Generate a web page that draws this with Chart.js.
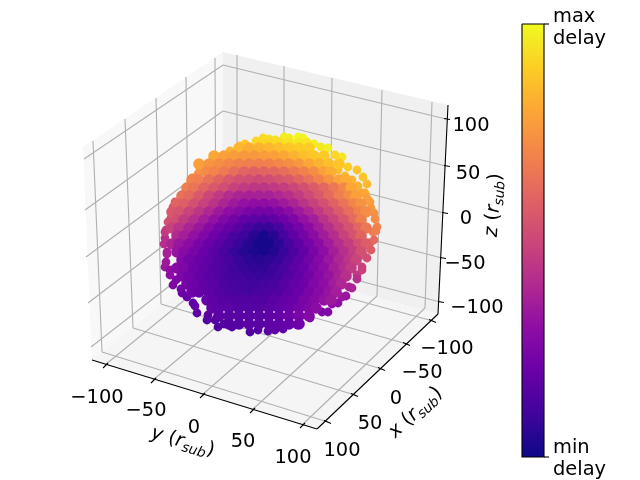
<!DOCTYPE html>
<html>
<head>
<meta charset="utf-8">
<title>delay map</title>
<script src="https://cdn.jsdelivr.net/npm/chart.js@4"></script>
<style>
body { margin: 0; background: #fff; }
canvas { display: block; }
</style>
</head>
<body>
<canvas id="delayChart" width="640" height="480"></canvas>
<script>
// plasma colormap, evenly spaced from 0 to 1
const plasmaStops = ['#0d0887', '#41049d', '#6a00a8', '#8f0da4', '#b12a90', '#cc4778', '#e16462', '#f2844b', '#fca636', '#fcce25', '#f0f921'];

// sphere points, row by row (view plane units), delay 0..1
const rowY = [143, 148, 156, 164, 172, 180, 188, 196, 204, 212, 220, 228, 236, 244, 252, 260, 268, 276, 284, 292, 300, 308, 316, 324];
const rowX = [
    [259, 269, 279, 289, 299],
    [239, 249, 259, 269, 279, 289, 299, 309],
    [214, 224, 234, 244, 254, 264, 274, 284, 294, 304, 314, 324],
    [199, 209, 219, 229, 239, 249, 259, 269, 279, 289, 299, 309, 319, 329, 339],
    [207, 214, 224, 234, 244, 254, 264, 274, 284, 294, 304, 314, 324, 331],
    [192, 199, 209, 219, 229, 239, 249, 259, 269, 279, 289, 299, 309, 319, 329, 339, 346],
    [187, 194, 204, 214, 224, 234, 244, 254, 264, 274, 284, 294, 304, 314, 324, 334, 344, 351],
    [182, 189, 199, 209, 219, 229, 239, 249, 259, 269, 279, 289, 299, 309, 319, 329, 339, 349, 356],
    [177, 184, 194, 204, 214, 224, 234, 244, 254, 264, 274, 284, 294, 304, 314, 324, 334, 344, 354, 361],
    [172, 179, 189, 199, 209, 219, 229, 239, 249, 259, 269, 279, 289, 299, 309, 319, 329, 339, 349, 359, 366],
    [177, 184, 194, 204, 214, 224, 234, 244, 254, 264, 274, 284, 294, 304, 314, 324, 334, 344, 354, 361],
    [172, 179, 189, 199, 209, 219, 229, 239, 249, 259, 269, 279, 289, 299, 309, 319, 329, 339, 349, 359, 366],
    [177, 184, 194, 204, 214, 224, 234, 244, 254, 264, 274, 284, 294, 304, 314, 324, 334, 344, 354, 361],
    [172, 179, 189, 199, 209, 219, 229, 239, 249, 259, 269, 279, 289, 299, 309, 319, 329, 339, 349, 359, 366],
    [177, 184, 194, 204, 214, 224, 234, 244, 254, 264, 274, 284, 294, 304, 314, 324, 334, 344, 354, 361],
    [182, 189, 199, 209, 219, 229, 239, 249, 259, 269, 279, 289, 299, 309, 319, 329, 339, 349, 356],
    [177, 184, 194, 204, 214, 224, 234, 244, 254, 264, 274, 284, 294, 304, 314, 324, 334, 344, 351],
    [182, 189, 199, 209, 219, 229, 239, 249, 259, 269, 279, 289, 299, 309, 319, 329, 339, 346],
    [187, 194, 204, 214, 224, 234, 244, 254, 264, 274, 284, 294, 304, 314, 324, 334, 341],
    [192, 199, 209, 219, 229, 239, 249, 259, 269, 279, 289, 299, 309, 319, 329, 336],
    [207, 214, 224, 234, 244, 254, 264, 274, 284, 294, 304, 314, 324, 331],
    [212, 219, 229, 239, 249, 259, 269, 279, 289, 299, 309, 316],
    [219, 229, 239, 249, 259, 269, 279, 289, 299, 309],
    [229, 239, 249, 259, 269, 279, 289, 299]
];
const rowDelay = [
    [.92, .92, .93, .95, .96],
    [.84, .82, .83, .84, .86, .88, .89, .90],
    [.80, .78, .77, .76, .76, .77, .78, .80, .83, .86, .88, .89],
    [.78, .75, .73, .71, .69, .68, .68, .69, .71, .73, .76, .80, .83, .86, .88],
    [.72, .70, .67, .63, .60, .59, .60, .61, .63, .66, .69, .73, .78, .82],
    [.70, .68, .64, .60, .56, .53, .52, .51, .52, .54, .56, .60, .64, .69, .74, .79, .82],
    [.68, .65, .60, .56, .52, .48, .46, .44, .44, .45, .47, .50, .53, .57, .61, .66, .71, .80],
    [.64, .62, .56, .50, .45, .41, .38, .37, .37, .37, .39, .42, .46, .51, .56, .62, .68, .73, .78],
    [.60, .58, .53, .48, .43, .38, .34, .31, .30, .30, .31, .34, .38, .43, .48, .53, .59, .65, .70, .74],
    [.56, .54, .49, .44, .39, .34, .30, .27, .24, .23, .23, .25, .29, .34, .39, .45, .51, .57, .63, .69, .73],
    [.52, .46, .41, .36, .31, .26, .22, .18, .16, .15, .17, .21, .25, .31, .36, .43, .49, .55, .62, .68],
    [.48, .43, .38, .33, .28, .23, .19, .15, .11, .08, .08, .12, .18, .23, .29, .35, .42, .48, .54, .61, .66],
    [.40, .36, .31, .26, .21, .17, .12, .09, .05, .02, .05, .11, .17, .23, .29, .35, .41, .48, .54, .60],
    [.38, .33, .29, .24, .20, .16, .12, .08, .05, .02, .02, .06, .11, .17, .23, .29, .35, .41, .47, .53, .58],
    [.32, .28, .24, .20, .16, .12, .08, .05, .03, .02, .04, .08, .13, .18, .24, .30, .36, .42, .47, .53],
    [.27, .23, .20, .17, .14, .11, .08, .06, .05, .06, .08, .12, .17, .22, .27, .33, .39, .44, .49],
    [.28, .25, .21, .18, .15, .13, .10, .08, .07, .07, .09, .12, .16, .20, .25, .30, .36, .41, .46],
    [.25, .22, .19, .16, .14, .11, .10, .09, .08, .09, .11, .14, .18, .22, .27, .32, .37, .42],
    [.23, .21, .18, .16, .13, .12, .11, .10, .11, .12, .15, .18, .21, .26, .30, .35, .39],
    [.21, .19, .17, .15, .13, .12, .11, .12, .13, .14, .17, .20, .24, .28, .32, .36],
    [.19, .17, .15, .14, .14, .14, .14, .16, .18, .20, .24, .27, .31, .34],
    [.18, .17, .16, .15, .15, .15, .16, .18, .20, .23, .26, .29],
    [.16, .16, .16, .16, .16, .17, .19, .21, .24, .27],
    [.15, .15, .16, .16, .17, .18, .19, .21]
];

// loose points round the edge of the sphere
const rimX = [284, 289, 298, 303, 263, 269, 275, 256, 245, 240, 307, 314, 321, 328, 342, 335, 348, 357, 363, 367, 365, 370, 374, 377,
    230, 218, 213, 205, 198, 192, 188, 183, 175, 173, 171, 166,
    165, 167, 165, 170, 173, 182, 193, 197, 207, 218, 232, 250, 258, 268, 275, 283, 297, 310, 322, 332, 342, 349, 357, 362, 363, 370, 373,
    200, 196, 190, 185, 180, 176, 172, 168, 165, 164, 167, 166, 170, 176, 181, 187, 195, 208, 215, 224,
    338, 345, 352, 358, 362, 367, 371, 375, 376, 374, 371, 367, 362, 357, 352, 346, 338, 328];
const rimY = [137, 138, 137, 138, 138, 139, 140, 141, 144, 146, 142, 144, 147, 148, 157, 155, 167, 170, 177, 184, 193, 202, 213, 227,
    151, 157, 162, 167, 174, 178, 188, 195, 202, 207, 218, 230,
    238, 252, 267, 275, 285, 293, 303, 313, 320, 327, 327, 332, 330, 331, 330, 329, 325, 318, 312, 304, 297, 287, 275, 267, 255, 243, 232,
    170, 180, 185, 193, 200, 208, 214, 222, 232, 244, 254, 262, 270, 280, 289, 297, 306, 315, 320, 324,
    170, 176, 180, 186, 193, 198, 208, 219, 231, 240, 250, 258, 270, 279, 288, 296, 303, 312];
const rimDelay = [.97, .97, .99, .99, .93, .94, .94, .92, .88, .87, .96, .97, .96, .98, .95, .92, .90, .88, .88, .85, .82, .78, .74, .70,
    .83, .82, .78, .75, .73, .70, .66, .63, .58, .56, .50, .47,
    .42, .36, .33, .30, .25, .20, .17, .16, .15, .14, .14, .14, .15, .16, .17, .18, .20, .22, .25, .30, .34, .38, .45, .48, .55, .62, .68,
    .74, .72, .70, .67, .64, .60, .57, .53, .46, .42, .37, .34, .30, .26, .22, .20, .18, .16, .15, .15,
    .86, .85, .84, .83, .80, .78, .76, .72, .68, .62, .57, .52, .48, .42, .38, .33, .30, .26];

// axis ticks and labels
const tickNames = ['\u2212100', '\u221250', '0', '50', '100'];
const yTickPoints = [[105, 365], [153, 380], [202, 395], [252, 410], [302, 425]];
const xTickPoints = [[433, 321], [407, 344], [382, 369], [355, 395], [328, 422]];
const zTickPoints = [[447, 119], [447, 166], [445, 213], [443, 258], [441, 302]];
const yTickLabelPoints = [[97, 398], [146, 411], [194, 428], [243, 442], [293, 458]];
const xTickLabelPoints = [[447, 349], [422, 373], [396, 399], [370, 424], [342, 451]];
const zTickLabelPoints = [[477, 308], [465, 264], [466, 219], [468, 174], [471, 126]];

// box of the 3d axes
const paneLeft = [[83, 147], [223, 52], [222, 256], [92, 360]];
const paneBack = [[223, 52], [448, 105], [438, 314], [222, 256]];
const paneFloor = [[92, 360], [222, 256], [438, 314], [317, 429]];
const gridLines = [
    [93, 141, 102, 352], [125, 119, 133, 328], [156, 98, 161, 304], [186, 77, 189, 282], [215, 58, 216, 262],
    [223, 65, 84, 159], [223, 111, 85, 210], [223, 156, 86, 257], [222, 201, 88, 303], [222, 245, 91, 347],
    [237, 55, 237, 257], [284, 66, 284, 270], [332, 78, 330, 283], [382, 90, 377, 296], [432, 102, 425, 308],
    [223, 65, 446, 119], [223, 111, 446, 166], [223, 156, 444, 213], [222, 201, 442, 258], [222, 245, 440, 302],
    [105, 365, 237, 257], [153, 380, 284, 270], [202, 395, 330, 283], [252, 410, 377, 296], [302, 425, 425, 308],
    [102, 352, 328, 422], [133, 328, 355, 395], [161, 304, 382, 369], [189, 282, 407, 344], [216, 262, 433, 321]
];
const axisLines = [[92, 360, 317, 429], [317, 429, 438, 314], [438, 314, 448, 105]];

// colorbar
const colorbarBox = [[522, 24], [544, 24], [544, 457], [522, 457]];

function delayColor(d) {
    const pos = Math.min(Math.max(d, 0), 1) * (plasmaStops.length - 1);
    const i = Math.min(Math.floor(pos), plasmaStops.length - 2);
    const t = pos - i;
    const a = parseInt(plasmaStops[i].slice(1), 16);
    const b = parseInt(plasmaStops[i + 1].slice(1), 16);
    const mix = shift => Math.round(((a >> shift) & 255) * (1 - t) + ((b >> shift) & 255) * t);
    return 'rgb(' + mix(16) + ',' + mix(8) + ',' + mix(0) + ')';
}

const datasets = [];

function addPolygon(corners, color) {
    const data = corners.concat([corners[0]]).map(c => ({ x: c[0], y: c[1] }));
    datasets.push({ data: data, showLine: true, fill: 'shape', backgroundColor: color, borderWidth: 0, pointRadius: 0 });
}

function addLine(l, color, width) {
    datasets.push({
        data: [{ x: l[0], y: l[1] }, { x: l[2], y: l[3] }],
        showLine: true, fill: false, borderColor: color, borderWidth: width, pointRadius: 0
    });
}

function addPoints(xs, ys, delays, radius) {
    datasets.push({
        data: xs.map((x, i) => ({ x: x, y: ys[i] })),
        showLine: false,
        pointRadius: radius,
        pointBorderWidth: 0,
        pointBackgroundColor: delays.map(delayColor)
    });
}

addPolygon(paneLeft, '#f8f8f8');
addPolygon(paneBack, '#f0f0f0');
addPolygon(paneFloor, '#f5f5f5');
gridLines.forEach(l => addLine(l, '#b0b0b0', 1.1));
axisLines.forEach(l => addLine(l, '#000', 1.1));

yTickPoints.forEach(p => addLine([p[0] - 2, p[1] + 3, p[0] + 3, p[1] - 2], '#000', 1.1));
xTickPoints.forEach(p => addLine([p[0] - 4, p[1] - 1.5, p[0] + 3, p[1] + 1.5], '#000', 1.1));
zTickPoints.forEach(p => addLine([p[0] - 3, p[1] - 0.5, p[0] + 3, p[1] + 0.5], '#000', 1.1));

addPoints(rimX, rimY, rimDelay, 4.4);
rowY.forEach((y, r) => {
    addPoints(rowX[r], rowX[r].map(() => y), rowDelay[r], 5.8);
});

// colorbar: filled box with the colormap as gradient
datasets.push({
    data: colorbarBox.concat([colorbarBox[0]]).map(c => ({ x: c[0], y: c[1] })),
    showLine: true,
    fill: 'shape',
    borderColor: '#000',
    borderWidth: 1.1,
    pointRadius: 0,
    backgroundColor: ctx => {
        const g = ctx.chart.ctx.createLinearGradient(0, colorbarBox[2][1], 0, colorbarBox[0][1]);
        plasmaStops.forEach((c, i) => g.addColorStop(i / (plasmaStops.length - 1), c));
        return g;
    }
});
addLine([544, 24, 549, 24], '#000', 1.1);
addLine([544, 457, 549, 457], '#000', 1.1);

// first dataset at the back
datasets.forEach((d, i) => { d.order = datasets.length - i; });

const FONT = '"DejaVu Sans"';
const FONT_SIZE = 19.44;

// y (r_sub) style label, pieces set one after the other along a rotated baseline
function drawAxisLabel(ctx, letter, cx, cy, angle) {
    const pieces = [
        { text: letter, font: 'italic ' + FONT_SIZE + 'px ' + FONT, dy: 0 },
        { text: ' (', font: FONT_SIZE + 'px ' + FONT, dy: 0 },
        { text: 'r', font: 'italic ' + FONT_SIZE + 'px ' + FONT, dy: 0 },
        { text: 'sub', font: 'italic ' + (FONT_SIZE * 0.7) + 'px ' + FONT, dy: 4 },
        { text: ')', font: FONT_SIZE + 'px ' + FONT, dy: 0 }
    ];
    let total = 0;
    pieces.forEach(p => { ctx.font = p.font; total += ctx.measureText(p.text).width; });
    ctx.save();
    ctx.translate(cx, cy);
    ctx.rotate(angle * Math.PI / 180);
    ctx.textAlign = 'left';
    ctx.textBaseline = 'alphabetic';
    let pos = -total / 2;
    pieces.forEach(p => {
        ctx.font = p.font;
        ctx.fillText(p.text, pos, 6 + p.dy);
        pos += ctx.measureText(p.text).width;
    });
    ctx.restore();
}

const labelsPlugin = {
    id: 'labelsPlugin',
    afterDatasetsDraw(chart) {
        const ctx = chart.ctx;
        const sx = chart.scales.x;
        const sy = chart.scales.y;
        ctx.save();
        ctx.fillStyle = '#000';
        ctx.font = FONT_SIZE + 'px ' + FONT;
        ctx.textAlign = 'center';
        ctx.textBaseline = 'middle';
        const put = (names, points) => names.forEach((name, i) => {
            ctx.fillText(name, sx.getPixelForValue(points[i][0]), sy.getPixelForValue(points[i][1]));
        });
        put(tickNames, yTickLabelPoints);
        put(tickNames, xTickLabelPoints);
        put(tickNames, zTickLabelPoints);

        ctx.textAlign = 'left';
        ctx.textBaseline = 'alphabetic';
        ctx.fillText('max', sx.getPixelForValue(553), sy.getPixelForValue(22));
        ctx.fillText('delay', sx.getPixelForValue(553), sy.getPixelForValue(44));
        ctx.fillText('min', sx.getPixelForValue(553), sy.getPixelForValue(453));
        ctx.fillText('delay', sx.getPixelForValue(553), sy.getPixelForValue(475));

        drawAxisLabel(ctx, 'y', sx.getPixelForValue(183), sy.getPixelForValue(441), 16);
        drawAxisLabel(ctx, 'x', sx.getPixelForValue(415), sy.getPixelForValue(412), -43);
        drawAxisLabel(ctx, 'z', sx.getPixelForValue(493), sy.getPixelForValue(205), -86);
        ctx.restore();
    }
};

new Chart(document.getElementById('delayChart').getContext('2d'), {
    type: 'scatter',
    data: { datasets: datasets },
    options: {
        responsive: false,
        animation: false,
        layout: { padding: 0, autoPadding: false },
        plugins: { legend: { display: false }, tooltip: { enabled: false } },
        scales: {
            x: { type: 'linear', display: false, min: 0, max: 640 },
            y: { type: 'linear', display: false, min: 0, max: 480, reverse: true }
        }
    },
    plugins: [labelsPlugin]
});
</script>
</body>
</html>
